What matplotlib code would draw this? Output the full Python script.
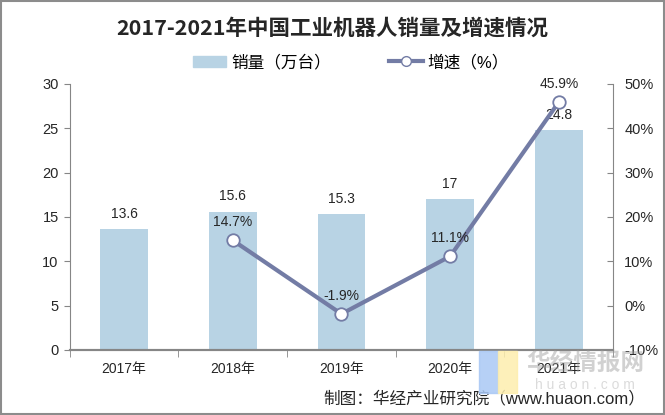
import matplotlib
matplotlib.use("Agg")
import matplotlib.pyplot as plt
from matplotlib.patches import Rectangle
from matplotlib.lines import Line2D

plt.rcParams['font.family'] = ['Liberation Sans', 'Noto Sans CJK SC', 'DejaVu Sans']

# data
years = ['2017年', '2018年', '2019年', '2020年', '2021年']
sales = [13.6, 15.6, 15.3, 17, 24.8]          # 万台
growth_years = [1, 2, 3, 4]                    # index into years
growth = [14.7, -1.9, 11.1, 45.9]              # %
sales_labels = ['13.6', '15.6', '15.3', '17', '24.8']
growth_labels = ['14.7%', '-1.9%', '11.1%', '45.9%']

bar_color = '#b8d3e4'
line_color = '#737ca5'
axis_color = '#868686'
text_color = '#262626'

fig = plt.figure(figsize=(6.65, 4.15), dpi=100)
ax = fig.add_axes([0.105, 0.157, 0.817, 0.641])
ax2 = ax.twinx()

x = list(range(len(years)))
ax.bar(x, sales, width=0.44, color=bar_color, zorder=2)
for xi, v, s in zip(x, sales, sales_labels):
    ax.annotate(s, (xi, v), xytext=(0, 6), textcoords='offset points',
                ha='center', va='bottom', fontsize=10, color=text_color)

ax.set_xlim(-0.5, len(years) - 0.5)
ax.set_ylim(0, 30)
ax.set_yticks([0, 5, 10, 15, 20, 25, 30])
ax.set_xticks(x)
ax.set_xticklabels(years)
ax.set_xticks([i + 0.5 for i in range(-1, len(years))], minor=True)
ax.tick_params(axis='x', which='major', length=0, pad=9, labelsize=10, colors=text_color)
ax.tick_params(axis='x', which='minor', length=5, color=axis_color)
ax.tick_params(axis='y', length=4, color=axis_color, labelsize=10.5, labelcolor=text_color, pad=4)

ax2.plot(growth_years, growth, color=line_color, lw=3, marker='o', ms=9,
         mfc='white', mec=line_color, mew=1.3, zorder=3, clip_on=False)
for xi, v, s in zip(growth_years, growth, growth_labels):
    ax2.annotate(s, (xi, v), xytext=(0, 8), textcoords='offset points',
                 ha='center', va='bottom', fontsize=10, color=text_color)
ax2.set_ylim(-10, 50)
ax2.set_yticks([-10, 0, 10, 20, 30, 40, 50])
ax2.set_yticklabels([f'{t}%' for t in [-10, 0, 10, 20, 30, 40, 50]])
ax2.tick_params(axis='y', direction='in', length=4, color=axis_color,
                labelsize=10.5, labelcolor=text_color, pad=8)

for a in (ax, ax2):
    a.spines['top'].set_visible(False)
    a.spines['left'].set_color(axis_color)
    a.spines['right'].set_color(axis_color)
    a.spines['bottom'].set_color(axis_color)
    a.spines['bottom'].set_linewidth(1.5)
ax.spines['right'].set_visible(False)
ax2.spines['left'].set_visible(False)

fig.text(0.5, 0.933, '2017-2021年中国工业机器人销量及增速情况', ha='center', va='center',
         fontsize=15.5, fontweight='bold', color=text_color, family=['Noto Sans CJK SC'])

# legend
handles = [Rectangle((0, 0), 1, 1, color=bar_color),
           Line2D([0], [0], color=line_color, lw=3, marker='o', ms=7,
                  mfc='white', mec=line_color)]
fig.legend(handles, ['销量（万台）', '增速（%）'], loc='center', bbox_to_anchor=(0.528, 0.85),
           ncol=2, frameon=False, fontsize=12, handlelength=2.0, columnspacing=3.5,
           handletextpad=0.3)

fig.text(0.97, 0.041, '制图：华经产业研究院（www.huaon.com）', ha='right', va='center',
         fontsize=12, color=text_color)

# watermark
fig.patches.append(Rectangle((0.72, 0.053), 0.0286, 0.101, transform=fig.transFigure,
                             color='#a9c8f5', alpha=0.85, zorder=5))
fig.patches.append(Rectangle((0.7486, 0.053), 0.0286, 0.101, transform=fig.transFigure,
                             color='#fdeeae', alpha=0.85, zorder=5))
fig.text(0.88, 0.125, '华经情报网', ha='center', va='center', fontsize=17, fontweight='bold',
         color='#9a9a9a', alpha=0.45, family=['Noto Sans CJK SC'], zorder=6)
fig.text(0.88, 0.072, 'h u a o n . c o m', ha='center', va='center', fontsize=10,
         color='#b0b0b0', alpha=0.45, zorder=6)

# outer border
fig.patches.append(Rectangle((0.002, 0.003), 0.996, 0.994, transform=fig.transFigure,
                             fill=False, ec='#8c8c8c', lw=1.5))

fig.savefig('out.png', dpi=100)
